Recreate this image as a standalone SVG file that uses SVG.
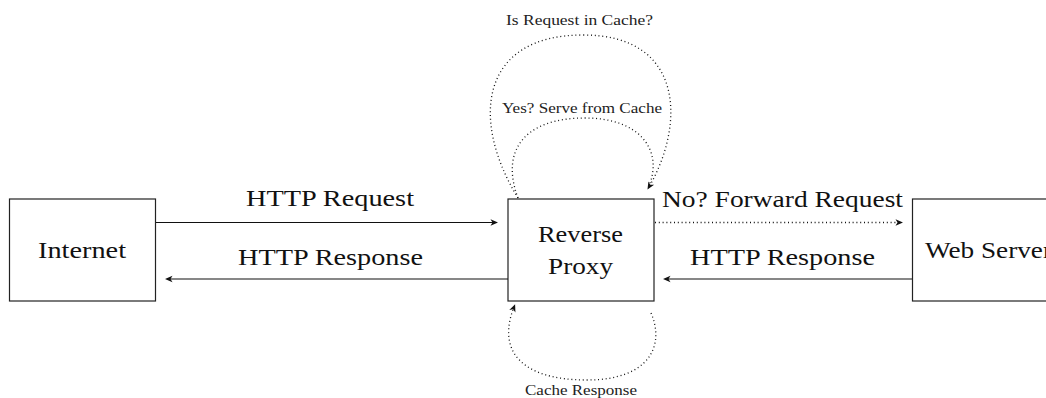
<svg xmlns="http://www.w3.org/2000/svg" width="1046" height="398" viewBox="0 0 1046 398">
<style>
.box{fill:#fff;stroke:#222;stroke-width:1.2}
.big{font-family:"Liberation Serif","Times New Roman",serif;font-size:22.5px;fill:#111}
.small{font-family:"Liberation Serif","Times New Roman",serif;font-size:14px;fill:#222}
.ln{fill:none;stroke:#111;stroke-width:1.2}
.dot{fill:none;stroke:#111;stroke-width:1.3;stroke-dasharray:1 2.8}
</style>
<defs>
<marker id="ah" viewBox="-6 -5 10 10" refX="0" refY="0" markerWidth="10" markerHeight="10" markerUnits="userSpaceOnUse" orient="auto">
<path d="M3,0 L-4.5,-3.3 L-2.5,0 L-4.5,3.3 Z" fill="#111"/>
</marker>
</defs>
<g id="internet">
<rect class="box" x="9.5" y="199" width="146" height="102"/>
<text class="big" x="38" y="258" textLength="88" lengthAdjust="spacingAndGlyphs">Internet</text>
</g>
<g id="proxy">
<rect class="box" x="508" y="199" width="146" height="102"/>
<text class="big" x="538" y="241.5" textLength="85" lengthAdjust="spacingAndGlyphs">Reverse</text>
<text class="big" x="548" y="273.5" textLength="65" lengthAdjust="spacingAndGlyphs">Proxy</text>
</g>
<g id="webserver">
<rect class="box" x="912.5" y="199" width="146" height="102"/>
<text class="big" x="925" y="258" textLength="127" lengthAdjust="spacingAndGlyphs">Web Server</text>
</g>
<g id="connectors">
<path class="ln" d="M156,222.5 L495,222.5" marker-end="url(#ah)"/>
<path class="ln" d="M508,279 L168,279" marker-end="url(#ah)"/>
<path class="dot" d="M655,222.5 L900,222.5" marker-end="url(#ah)"/>
<path class="ln" d="M912,279 L666,279" marker-end="url(#ah)"/>
<path class="dot" d="M518,198 C470,120 480,35 583,35 C685,35 685,125 649,187" marker-end="url(#ah)"/>
<path class="dot" d="M518,198 C500,150 525,118 585,118 C640,118 662,150 650,183"/>
<path class="dot" d="M651,313 C665,345 650,380 587,380 C520,380 497,350 514,307" marker-end="url(#ah)"/>
</g>
<g id="labels">
<text class="big" x="246" y="206" textLength="168" lengthAdjust="spacingAndGlyphs">HTTP Request</text>
<text class="big" x="238" y="265" textLength="185" lengthAdjust="spacingAndGlyphs">HTTP Response</text>
<text class="big" x="662" y="207" textLength="241" lengthAdjust="spacingAndGlyphs">No? Forward Request</text>
<text class="big" x="690" y="264.5" textLength="185" lengthAdjust="spacingAndGlyphs">HTTP Response</text>
<text class="small" x="506" y="24.5" textLength="147" lengthAdjust="spacingAndGlyphs">Is Request in Cache?</text>
<text class="small" x="502" y="113" textLength="160" lengthAdjust="spacingAndGlyphs">Yes? Serve from Cache</text>
<text class="small" x="525" y="394.5" textLength="112" lengthAdjust="spacingAndGlyphs">Cache Response</text>
</g>
</svg>
